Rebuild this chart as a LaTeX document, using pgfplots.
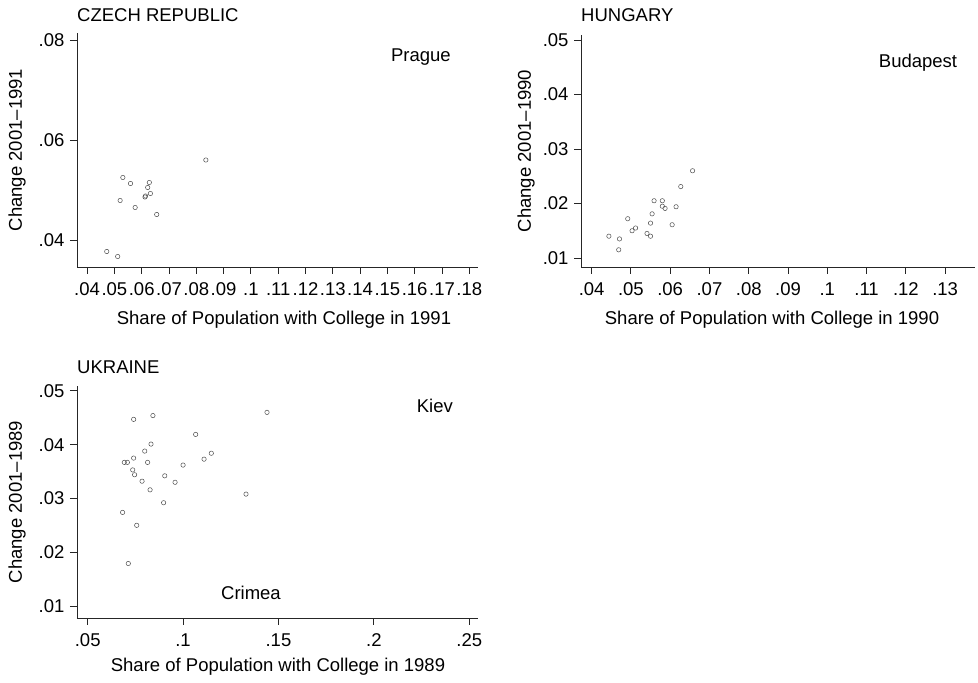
\documentclass[border=0pt]{standalone}
\usepackage{fontspec}
\setmainfont{Liberation Sans}
\usepackage{pgfplots}
\usepackage{pgfplotstable}
\pgfplotsset{compat=1.18}

\pgfplotstableread{
x y
0.0835 0.0560
0.0531 0.0525
0.0559 0.0513
0.0628 0.0515
0.0622 0.0505
0.0632 0.0493
0.0614 0.0488
0.0612 0.0486
0.0521 0.0479
0.0576 0.0465
0.0655 0.0451
0.0472 0.0377
0.0512 0.0367
}\czech

\pgfplotstableread{
x y
0.0657 0.0260
0.0627 0.0231
0.0559 0.0205
0.0580 0.0205
0.0580 0.0195
0.0587 0.0191
0.0615 0.0194
0.0554 0.0181
0.0492 0.0172
0.0550 0.0164
0.0605 0.0161
0.0512 0.0155
0.0503 0.0150
0.0541 0.0145
0.0550 0.0140
0.0444 0.0140
0.0471 0.0135
0.0469 0.0115
}\hungary

\pgfplotstableread{
x y
0.1440 0.0460
0.0741 0.0447
0.0842 0.0454
0.1066 0.0419
0.0832 0.0401
0.0799 0.0388
0.1148 0.0384
0.1110 0.0373
0.0741 0.0375
0.0692 0.0367
0.0708 0.0367
0.0814 0.0367
0.1000 0.0362
0.0736 0.0353
0.0746 0.0344
0.0904 0.0342
0.0785 0.0332
0.0958 0.0330
0.0827 0.0316
0.1330 0.0308
0.0898 0.0292
0.0683 0.0274
0.0757 0.0250
0.0713 0.0179
}\ukraine

\newcommand{\fs}{\fontsize{18.5}{22}\selectfont}

\begin{document}
\begin{tikzpicture}[x=1pt,y=1pt]
\useasboundingbox (0,0) rectangle (978,683);
\pgfplotsset{
  stata/.style={
    scale only axis,
    anchor=origin,
    axis lines*=left,
    axis line style={-, line width=0.8pt, black!85},
    tick align=outside,
    major tick length=7pt,
    tick style={line width=0.8pt, black!85},
    tick label style={font=\fs},
    xticklabel style={yshift=-5pt},
    yticklabel style={xshift=-2pt},
    scaled x ticks=false, scaled y ticks=false,
    /pgf/number format/assume math mode=true,
    clip=false,
  },
  pts/.style={only marks, mark=o, mark size=2.2pt,
    mark options={draw=black!70, line width=0.5pt}},
}

% CZECH REPUBLIC
\begin{axis}[stata,
  at={(77pt,416pt)}, width=401pt, height=234pt,
  xmin=0.0363, xmax=0.1832, ymin=0.0346, ymax=0.0814,
  xtick={0.04,0.05,0.06,0.07,0.08,0.09,0.10,0.11,0.12,0.13,0.14,0.15,0.16,0.17,0.18},
  xticklabels={.04,.05,.06,.07,.08,.09,.1,.11,.12,.13,.14,.15,.16,.17,.18},
  ytick={0.04,0.06,0.08}, yticklabels={.04,.06,.08},
]
\addplot[pts] table[x=x,y=y]{\czech};
\node[font=\fs] at (axis cs:0.1623,0.0766) {Prague};
\end{axis}

% HUNGARY
\begin{axis}[stata,
  at={(581pt,416pt)}, width=394pt, height=232pt,
  xmin=0.0373, xmax=0.1376, ymin=0.00835, ymax=0.0509,
  xtick={0.04,0.05,0.06,0.07,0.08,0.09,0.10,0.11,0.12,0.13},
  xticklabels={.04,.05,.06,.07,.08,.09,.1,.11,.12,.13},
  ytick={0.01,0.02,0.03,0.04,0.05}, yticklabels={.01,.02,.03,.04,.05},
]
\addplot[pts] table[x=x,y=y]{\hungary};
\node[font=\fs] at (axis cs:0.1231,0.0459) {Budapest};
\end{axis}

% UKRAINE
\begin{axis}[stata,
  at={(77pt,65pt)}, width=401pt, height=232pt,
  xmin=0.0444, xmax=0.2546, ymin=0.00777, ymax=0.0509,
  xtick={0.05,0.10,0.15,0.20,0.25},
  xticklabels={.05,.1,.15,.2,.25},
  ytick={0.01,0.02,0.03,0.04,0.05}, yticklabels={.01,.02,.03,.04,.05},
]
\addplot[pts] table[x=x,y=y]{\ukraine};
\node[font=\fs] at (axis cs:0.2320,0.0472) {Kiev};
\node[font=\fs] at (axis cs:0.1356,0.0124) {Crimea};
\end{axis}

% titles
\node[font=\fs, anchor=west, inner sep=0pt] at (77,668) {CZECH REPUBLIC};
\node[font=\fs, anchor=west, inner sep=0pt] at (581,668) {HUNGARY};
\node[font=\fs, anchor=west, inner sep=0pt] at (77,316) {UKRAINE};

% axis labels
\node[font=\fs, rotate=90] at (17,533) {Change 2001–1991};
\node[font=\fs, rotate=90] at (526,532) {Change 2001–1990};
\node[font=\fs, rotate=90] at (17,181) {Change 2001–1989};
\node[font=\fs] at (284,363) {Share of Population with College in 1991};
\node[font=\fs] at (772,363) {Share of Population with College in 1990};
\node[font=\fs] at (278,16) {Share of Population with College in 1989};
\end{tikzpicture}
\end{document}
